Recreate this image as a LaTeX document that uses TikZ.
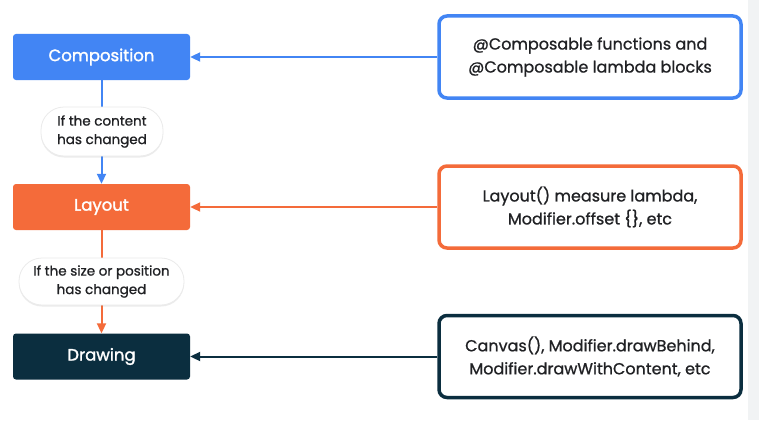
\documentclass[tikz,border=0pt]{standalone}
\usepackage{fontspec}
\setmainfont{Poppins}
\newfontfamily\medfont{Poppins}[FakeBold=0.9]
\newfontfamily\semifont{Poppins}[FakeBold=1.6]
\usetikzlibrary{arrows.meta,shadows}
\definecolor{gblue}{HTML}{4285F4}
\definecolor{gorange}{HTML}{F46B3A}
\definecolor{gnavy}{HTML}{0B2E3F}
\definecolor{gtext}{HTML}{202124}
\definecolor{gstrip}{HTML}{F1F3F4}
\begin{document}
\begin{tikzpicture}[x=1pt,y=-1pt,
  leftbox/.style={rectangle,rounded corners=3pt,minimum width=177pt,minimum height=46pt,inner sep=0pt,text=white,font=\semifont\fontsize{16.5}{20}\selectfont},
  rightbox/.style={rectangle,rounded corners=8pt,draw=#1,line width=3.5pt,fill=white,minimum width=302pt,minimum height=82pt,inner sep=0pt,align=center,text=gtext,font=\medfont\fontsize{16}{23}\selectfont},
  pill/.style={rectangle,rounded corners=23pt,fill=white,draw=black!8,line width=0.8pt,drop shadow={opacity=0.15,shadow xshift=0pt,shadow yshift=-1.5pt},inner sep=0pt,align=center,text=gtext,font=\medfont\fontsize{13.5}{18.5}\selectfont},
  conn/.style={draw=#1,line width=2pt,-{Triangle[length=10pt,width=9pt]}}
]
\useasboundingbox (0,0) rectangle (759,420);
\fill[white] (0,0) rectangle (759,420);
\fill[gstrip] (748,0) rectangle (759,420);

\node[leftbox,fill=gblue] (comp) at (101.5,57) {Composition};
\node[leftbox,fill=gorange] (lay) at (101.5,207) {Layout};
\node[leftbox,fill=gnavy] (draw) at (101.5,356.5) {Drawing};

\node[rightbox=gblue] (r1) at (590,57) {@Composable functions and\\@Composable lambda blocks};
\node[rightbox=gorange] (r2) at (590,207) {Layout() measure lambda,\\Modifier.offset \{\}, etc};
\node[rightbox=gnavy] (r3) at (590,356.5) {Canvas(), Modifier.drawBehind,\\Modifier.drawWithContent, etc};

\draw[conn=gblue] (r1.west) -- (comp.east);
\draw[conn=gorange] (r2.west) -- (lay.east);
\draw[conn=gnavy] (r3.west) -- (draw.east);

\draw[conn=gblue] (comp.south) -- (lay.north);
\draw[conn=gorange] (lay.south) -- (draw.north);

\node[pill,minimum width=122pt,minimum height=49pt] (p1) at (102,131.5) {If the content\\has changed};
\node[pill,minimum width=165pt,minimum height=47pt] (p2) at (101.5,281.5) {If the size or position\\has changed};
\end{tikzpicture}
\end{document}
